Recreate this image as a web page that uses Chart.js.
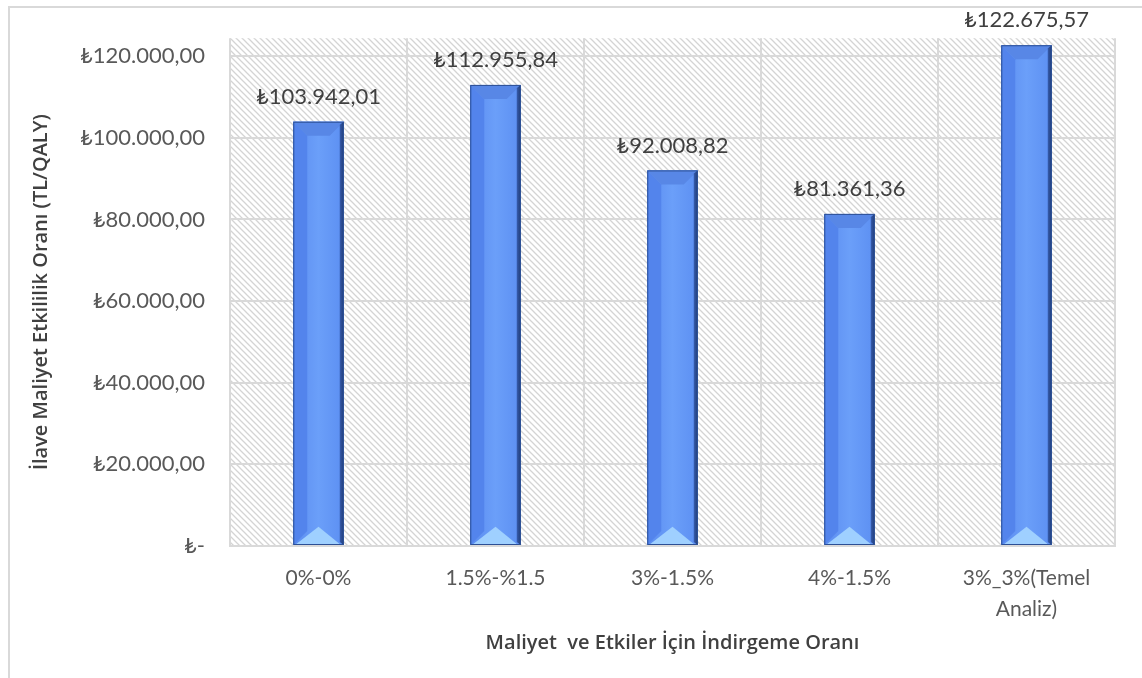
<!DOCTYPE html>
<html lang="tr">
<head>
<meta charset="utf-8">
<title>İlave Maliyet Etkililik Oranı</title>
<script src="https://cdn.jsdelivr.net/npm/chart.js@4.4.1/dist/chart.umd.min.js"></script>
<style>
  html, body { margin: 0; padding: 0; background: #fff; }
  #wrap { position: relative; width: 1142px; height: 678px; }
</style>
</head>
<body>
<div id="wrap"><canvas id="icerChart" width="1142" height="678"></canvas></div>
<script>
// indirgeme oranı senaryoları ve ICER değerleri (TL/QALY)
const categories = ['0%-0%', '1.5%-%1.5', '3%-1.5%', '4%-1.5%', ['3%_3%(Temel', 'Analiz)']];
const icerValues = [103942.01, 112955.84, 92008.82, 81361.36, 122675.57];
const yTicks = [0, 20000, 40000, 60000, 80000, 100000, 120000];
const yMax = 124400;

const gridColor = '#d9d9d9';
const textColor = '#595959';
const bodyFont = 'Lato, "Liberation Sans", sans-serif';
const titleFont = '"Open Sans", sans-serif';

function formatTL(v) {
    if (v === 0) return '₺-';
    return '₺' + v.toLocaleString('de-DE', { minimumFractionDigits: 2, maximumFractionDigits: 2 });
}

// çapraz taramalı arka plan deseni
function hatchPattern(ctx) {
    const c = document.createElement('canvas');
    c.width = 6; c.height = 6;
    const p = c.getContext('2d');
    p.fillStyle = '#ffffff';
    p.fillRect(0, 0, 6, 6);
    p.strokeStyle = '#d4d4d4';
    p.lineWidth = 1.3;
    p.beginPath();
    p.moveTo(-1, -1); p.lineTo(7, 7);
    p.moveTo(-7, -1); p.lineTo(1, 7);
    p.moveTo(5, -1); p.lineTo(13, 7);
    p.stroke();
    return ctx.createPattern(c, 'repeat');
}

const background = {
    id: 'background',
    beforeDraw(chart) {
        const { ctx, chartArea: a, width, height } = chart;
        ctx.save();
        ctx.fillStyle = '#fff';
        ctx.fillRect(0, 0, width, height);
        // dış çerçeve
        ctx.strokeStyle = gridColor;
        ctx.lineWidth = 2;
        ctx.beginPath();
        ctx.moveTo(9, height); ctx.lineTo(9, 7); ctx.lineTo(width, 7);
        ctx.stroke();
        ctx.fillStyle = hatchPattern(ctx);
        ctx.fillRect(a.left, a.top, a.right - a.left, a.bottom - a.top);
        ctx.restore();
    }
};

// sütunlara eğimli (bevel) görünüm ve değer etiketleri
const bevelBars = {
    id: 'bevelBars',
    afterDatasetsDraw(chart) {
        const { ctx } = chart;
        const meta = chart.getDatasetMeta(0);
        ctx.save();
        meta.data.forEach((bar, i) => {
            const w = bar.width;
            const x0 = bar.x - w / 2, x1 = bar.x + w / 2;
            const y0 = bar.y, yb = bar.base;
            const b = Math.min(14, (yb - y0) / 2);

            const face = ctx.createLinearGradient(x0, 0, x1, 0);
            face.addColorStop(0, '#5b8cf0');
            face.addColorStop(0.5, '#6b9ff9');
            face.addColorStop(1, '#5c8ff2');
            ctx.fillStyle = face;
            ctx.fillRect(x0, y0, w, yb - y0);

            // sol kenar
            ctx.fillStyle = '#5384ec';
            ctx.beginPath();
            ctx.moveTo(x0, y0); ctx.lineTo(x0 + b, y0 + b); ctx.lineTo(x0 + b, yb - b); ctx.lineTo(x0, yb);
            ctx.closePath(); ctx.fill();

            // üst kenar
            ctx.fillStyle = '#5887e6';
            ctx.beginPath();
            ctx.moveTo(x0, y0); ctx.lineTo(x1, y0); ctx.lineTo(x1 - b, y0 + b); ctx.lineTo(x0 + b, y0 + b);
            ctx.closePath(); ctx.fill();

            // sağ kenar (gölge)
            const edge = ctx.createLinearGradient(x1 - 5, 0, x1, 0);
            edge.addColorStop(0, '#3d66c0');
            edge.addColorStop(1, '#1f3a72');
            ctx.fillStyle = edge;
            ctx.beginPath();
            ctx.moveTo(x1 - 4, y0 + 3); ctx.lineTo(x1, y0); ctx.lineTo(x1, yb); ctx.lineTo(x1 - 4, yb - 3);
            ctx.closePath(); ctx.fill();

            // alt üçgen (parlak)
            ctx.fillStyle = '#9fd0ff';
            ctx.beginPath();
            ctx.moveTo(x0 + 3, yb - 1); ctx.lineTo(x1 - 4, yb - 1); ctx.lineTo(bar.x, yb - b * 1.3);
            ctx.closePath(); ctx.fill();

            ctx.strokeStyle = '#2c4f95';
            ctx.lineWidth = 1;
            ctx.strokeRect(x0 + 0.5, y0 + 0.5, w - 1, yb - y0 - 1);

            // değer etiketi
            ctx.fillStyle = '#404040';
            ctx.font = '22px ' + bodyFont;
            ctx.textAlign = 'center';
            ctx.textBaseline = 'middle';
            ctx.fillText(formatTL(icerValues[i]), bar.x, y0 - 25);
        });
        ctx.restore();
    }
};

new Chart(document.getElementById('icerChart'), {
    type: 'bar',
    data: {
        labels: categories,
        datasets: [{
            label: 'ICER',
            data: icerValues,
            backgroundColor: '#5f93f5',
            borderWidth: 0,
            categoryPercentage: 1,
            barPercentage: 0.285
        }]
    },
    options: {
        responsive: false,
        animation: false,
        layout: { padding: { top: 37, right: 27, left: 0, bottom: 0 } },
        plugins: {
            legend: { display: false },
            tooltip: { enabled: false }
        },
        scales: {
            x: {
                offset: true,
                grid: { color: gridColor, lineWidth: 2, offset: true, drawTicks: false },
                border: { color: gridColor, width: 2 },
                ticks: {
                    color: textColor,
                    padding: 16,
                    maxRotation: 0,
                    font: { family: bodyFont, size: 21, lineHeight: 1.5 }
                },
                title: {
                    display: true,
                    text: 'Maliyet  ve Etkiler İçin İndirgeme Oranı',
                    color: '#404040',
                    padding: { top: 0, bottom: 23 },
                    font: { family: titleFont, size: 20, weight: '600', lineHeight: 1.2 }
                },
                afterFit(scale) { scale.height = 132; }
            },
            y: {
                min: 0,
                max: yMax,
                grid: { color: gridColor, lineWidth: 2, drawTicks: false },
                border: { display: false },
                ticks: {
                    stepSize: 20000,
                    color: textColor,
                    padding: 25,
                    font: { family: bodyFont, size: 22 },
                    callback: (v) => formatTL(v)
                },
                afterBuildTicks(scale) {
                    scale.ticks = yTicks.map(v => ({ value: v }));
                },
                title: {
                    display: true,
                    text: 'İlave Maliyet Etkililik Oranı (TL/QALY)',
                    color: '#404040',
                    padding: { top: 29, bottom: 0 },
                    font: { family: titleFont, size: 20, weight: '600', lineHeight: 1.2 }
                },
                afterFit(scale) { scale.width = 230; }
            }
        }
    },
    plugins: [background, bevelBars]
});
</script>
</body>
</html>
